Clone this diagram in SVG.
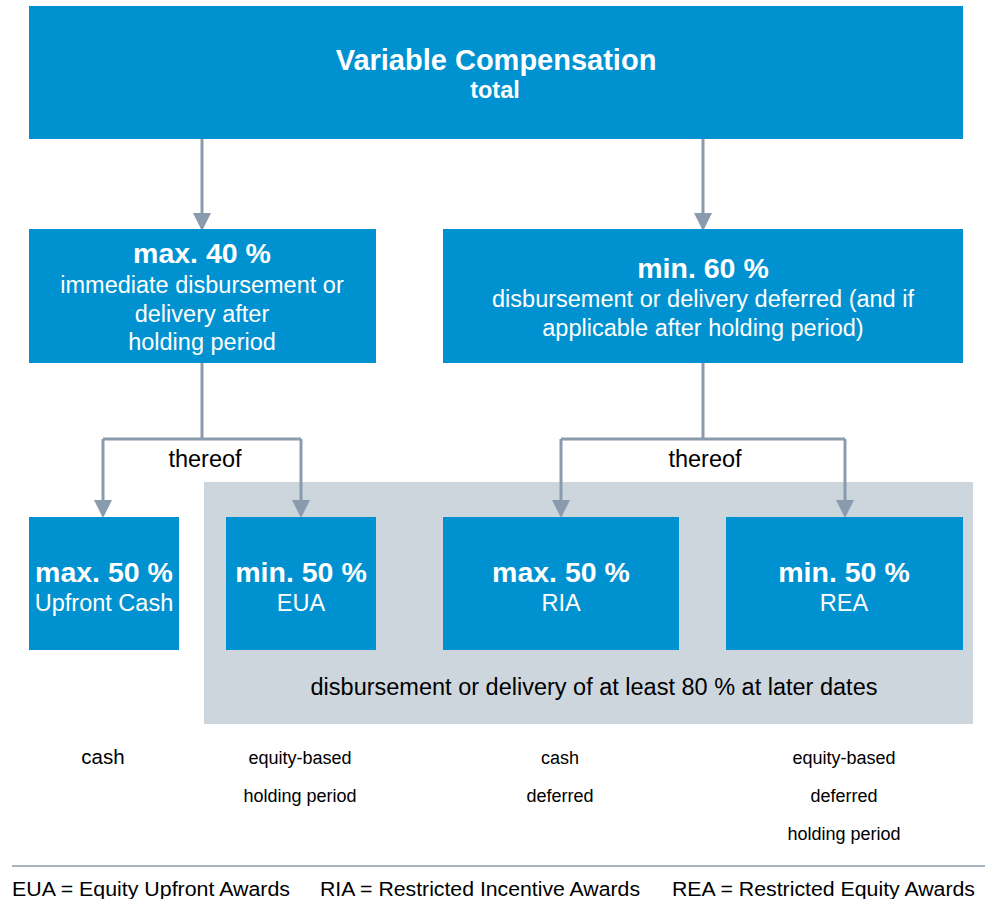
<svg xmlns="http://www.w3.org/2000/svg" width="987" height="899" viewBox="0 0 987 899">
<defs>
<style>
.box{fill:#0092D0}
.w{fill:#fff;font-family:"Liberation Sans",Arial,sans-serif;text-anchor:middle}
.b{font-weight:bold}
.k{fill:#000;font-family:"Liberation Sans",Arial,sans-serif;text-anchor:middle}
.c{fill:none;stroke:#8A9BAE;stroke-width:3}
</style>
<marker id="ah" markerWidth="6" markerHeight="6" refX="5" refY="3" orient="auto" markerUnits="strokeWidth" viewBox="0 0 6 6">
<path d="M0,0 L6,3 L0,6 Z" fill="#8A9BAE"/>
</marker>
</defs>
<rect width="987" height="899" fill="#fff"/>
<rect x="204" y="482" width="769" height="242" fill="#CDD5DD"/>
<g id="connectors">
<line class="c" x1="202" y1="139" x2="202" y2="228" marker-end="url(#ah)"/>
<line class="c" x1="703" y1="139" x2="703" y2="228" marker-end="url(#ah)"/>
<polyline class="c" points="202,363 202,439"/>
<polyline class="c" points="103,439 301,439"/>
<line class="c" x1="103" y1="439" x2="103" y2="515" marker-end="url(#ah)"/>
<line class="c" x1="301" y1="439" x2="301" y2="515" marker-end="url(#ah)"/>
<polyline class="c" points="703,363 703,439"/>
<polyline class="c" points="561,439 845,439"/>
<line class="c" x1="561" y1="439" x2="561" y2="515" marker-end="url(#ah)"/>
<line class="c" x1="845" y1="439" x2="845" y2="515" marker-end="url(#ah)"/>
<text class="k" x="205" y="467" font-size="23.5">thereof</text>
<text class="k" x="705" y="467" font-size="23.5">thereof</text>
</g>
<g id="top">
<rect class="box" x="29" y="6" width="934" height="133"/>
<text class="w b" x="496" y="70" font-size="29">Variable Compensation</text>
<text class="w b" x="495" y="98" font-size="23.5">total</text>
</g>
<g id="max40">
<rect class="box" x="29" y="229" width="347" height="134"/>
<text class="w b" x="202" y="263" font-size="28.5">max. 40 %</text>
<text class="w" x="202" y="293" font-size="23.5">immediate disbursement or</text>
<text class="w" x="202" y="322" font-size="23.5">delivery after</text>
<text class="w" x="202" y="350" font-size="23.5">holding period</text>
</g>
<g id="min60">
<rect class="box" x="443" y="229" width="520" height="134"/>
<text class="w b" x="703" y="278" font-size="28.5">min. 60 %</text>
<text class="w" x="703" y="307" font-size="23.5">disbursement or delivery deferred (and if</text>
<text class="w" x="703" y="336" font-size="23.5">applicable after holding period)</text>
</g>
<g id="upfront">
<rect class="box" x="29" y="517" width="150" height="133"/>
<text class="w b" x="104" y="582" font-size="28.5">max. 50 %</text>
<text class="w" x="104" y="611" font-size="23.5">Upfront Cash</text>
</g>
<g id="eua">
<rect class="box" x="226" y="517" width="150" height="133"/>
<text class="w b" x="301" y="582" font-size="28.5">min. 50 %</text>
<text class="w" x="301" y="611" font-size="23.5">EUA</text>
</g>
<g id="ria">
<rect class="box" x="443" y="517" width="236" height="133"/>
<text class="w b" x="561" y="582" font-size="28.5">max. 50 %</text>
<text class="w" x="561" y="611" font-size="23.5">RIA</text>
</g>
<g id="rea">
<rect class="box" x="726" y="517" width="237" height="133"/>
<text class="w b" x="844" y="582" font-size="28.5">min. 50 %</text>
<text class="w" x="844" y="611" font-size="23.5">REA</text>
</g>
<text class="k" x="594" y="695" font-size="23.5">disbursement or delivery of at least 80 % at later dates</text>
<g id="notes" font-size="18">
<text class="k" x="103" y="764" font-size="20.5">cash</text>
<text class="k" x="300" y="764">equity-based</text>
<text class="k" x="300" y="802">holding period</text>
<text class="k" x="560" y="764">cash</text>
<text class="k" x="560" y="802">deferred</text>
<text class="k" x="844" y="764">equity-based</text>
<text class="k" x="844" y="802">deferred</text>
<text class="k" x="844" y="840">holding period</text>
</g>
<line x1="12" y1="866" x2="985" y2="866" stroke="#8A9BAE" stroke-width="1.5"/>
<g font-family="'Liberation Sans',Arial,sans-serif" font-size="20" fill="#000">
<text x="12" y="896" textLength="278" lengthAdjust="spacingAndGlyphs">EUA = Equity Upfront Awards</text>
<text x="320" y="896" textLength="320" lengthAdjust="spacingAndGlyphs">RIA = Restricted Incentive Awards</text>
<text x="672" y="896" textLength="303" lengthAdjust="spacingAndGlyphs">REA = Restricted Equity Awards</text>
</g>
</svg>
